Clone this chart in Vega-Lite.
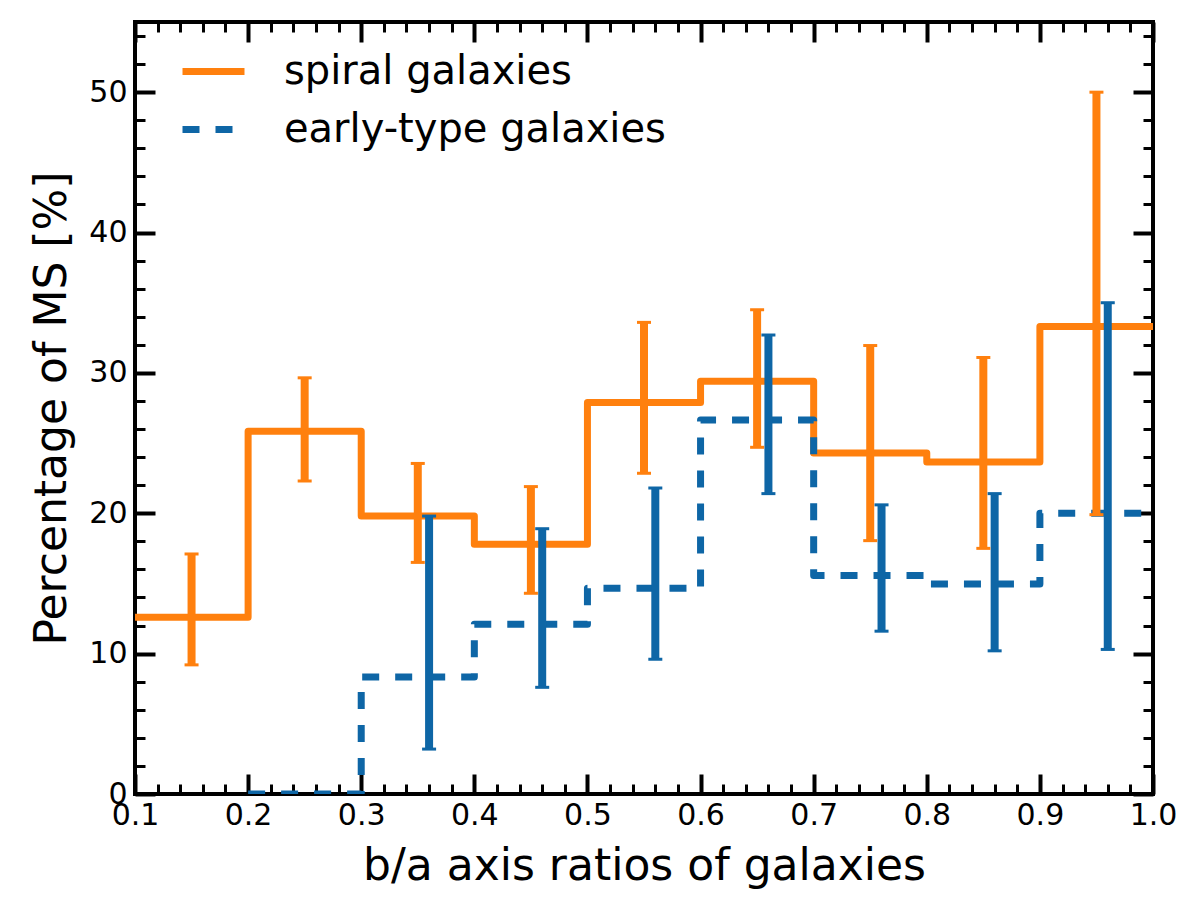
{
  "$schema": "https://vega.github.io/schema/vega-lite/v6.json",
  "width": 1018,
  "height": 772,
  "autosize": {"type": "none"},
  "padding": {"left": 135, "top": 22, "right": 47, "bottom": 111},
  "background": "white",
  "config": {
    "view": {"stroke": "black", "strokeWidth": 4},
    "font": "DejaVu Sans",
    "axis": {
      "domain": false,
      "grid": false,
      "tickColor": "black",
      "labelColor": "black",
      "titleColor": "black",
      "labelFont": "DejaVu Sans",
      "titleFont": "DejaVu Sans",
      "titleFontWeight": "normal",
      "labelFontSize": 30,
      "titleFontSize": 44,
      "labelFlush": false,
      "labelOverlap": false
    },
    "legend": {
      "labelFont": "DejaVu Sans",
      "labelFontSize": 40,
      "labelColor": "black",
      "labelLimit": 0
    }
  },
  "datasets": {
    "hist": [
      {"type": "spiral galaxies", "x": 0.1, "y": 12.6},
      {"type": "spiral galaxies", "x": 0.2, "y": 25.85},
      {"type": "spiral galaxies", "x": 0.3, "y": 19.8},
      {"type": "spiral galaxies", "x": 0.4, "y": 17.8},
      {"type": "spiral galaxies", "x": 0.5, "y": 27.9},
      {"type": "spiral galaxies", "x": 0.6, "y": 29.4},
      {"type": "spiral galaxies", "x": 0.7, "y": 24.3},
      {"type": "spiral galaxies", "x": 0.8, "y": 23.65},
      {"type": "spiral galaxies", "x": 0.9, "y": 33.3},
      {"type": "spiral galaxies", "x": 1.0, "y": 33.3},
      {"type": "early-type galaxies", "x": 0.2, "y": 0},
      {"type": "early-type galaxies", "x": 0.3, "y": 8.33},
      {"type": "early-type galaxies", "x": 0.4, "y": 12.1},
      {"type": "early-type galaxies", "x": 0.5, "y": 14.65},
      {"type": "early-type galaxies", "x": 0.6, "y": 26.65},
      {"type": "early-type galaxies", "x": 0.7, "y": 15.57},
      {"type": "early-type galaxies", "x": 0.8, "y": 14.96},
      {"type": "early-type galaxies", "x": 0.9, "y": 20.0},
      {"type": "early-type galaxies", "x": 1.0, "y": 20.0}
    ],
    "err": [
      {"type": "spiral galaxies", "x": 0.15, "lo": 9.2, "hi": 17.1},
      {"type": "spiral galaxies", "x": 0.25, "lo": 22.3, "hi": 29.65},
      {"type": "spiral galaxies", "x": 0.35, "lo": 16.5, "hi": 23.55},
      {"type": "spiral galaxies", "x": 0.45, "lo": 14.3, "hi": 21.9},
      {"type": "spiral galaxies", "x": 0.55, "lo": 22.85, "hi": 33.6},
      {"type": "spiral galaxies", "x": 0.65, "lo": 24.7, "hi": 34.5},
      {"type": "spiral galaxies", "x": 0.75, "lo": 18.05, "hi": 31.95},
      {"type": "spiral galaxies", "x": 0.85, "lo": 17.5, "hi": 31.1},
      {"type": "spiral galaxies", "x": 0.95, "lo": 19.9, "hi": 50.0},
      {"type": "early-type galaxies", "x": 0.36, "lo": 3.2, "hi": 19.8},
      {"type": "early-type galaxies", "x": 0.46, "lo": 7.6, "hi": 18.9},
      {"type": "early-type galaxies", "x": 0.56, "lo": 9.6, "hi": 21.8},
      {"type": "early-type galaxies", "x": 0.66, "lo": 21.4, "hi": 32.7},
      {"type": "early-type galaxies", "x": 0.76, "lo": 11.6, "hi": 20.6},
      {"type": "early-type galaxies", "x": 0.86, "lo": 10.2, "hi": 21.4},
      {"type": "early-type galaxies", "x": 0.96, "lo": 10.3, "hi": 35.0}
    ]
  },
  "resolve": {"axis": {"x": "independent", "y": "independent"}},
  "layer": [
    {
      "data": {"name": "hist"},
      "mark": {"type": "line", "interpolate": "step-after", "strokeWidth": 7, "strokeJoin": "round", "strokeCap": "butt", "clip": true},
      "encoding": {
        "x": {
          "field": "x", "type": "quantitative",
          "scale": {"domain": [0.1, 1.0], "nice": false, "zero": false},
          "axis": {
            "orient": "bottom",
            "values": [0.1, 0.2, 0.3, 0.4, 0.5, 0.6, 0.7, 0.8, 0.9, 1.0],
            "format": ".1f",
            "tickSize": -20, "tickWidth": 4,
            "labelPadding": 26,
            "title": "b/a axis ratios of galaxies",
            "titlePadding": 14
          }
        },
        "y": {
          "field": "y", "type": "quantitative",
          "scale": {"domain": [0, 55], "nice": false, "zero": false},
          "axis": {
            "orient": "left",
            "values": [0, 10, 20, 30, 40, 50],
            "tickSize": -20, "tickWidth": 4,
            "labelPadding": 28,
            "title": "Percentage of MS [%]",
            "titlePadding": 14
          }
        },
        "color": {
          "field": "type", "type": "nominal",
          "scale": {"domain": ["spiral galaxies", "early-type galaxies"], "range": ["#ff800e", "#0e66a6"]},
          "legend": {
            "title": null,
            "orient": "none",
            "legendX": 44,
            "legendY": 15,
            "padding": 0,
            "symbolType": "stroke",
            "symbolSize": 3844,
            "symbolStrokeWidth": 7,
            "labelOffset": 36,
            "rowPadding": 3
          }
        },
        "strokeDash": {
          "field": "type", "type": "nominal",
          "scale": {"domain": ["spiral galaxies", "early-type galaxies"], "range": [[1, 0], [17, 16]]},
          "legend": {
            "title": null,
            "orient": "none",
            "legendX": 44,
            "legendY": 15,
            "padding": 0,
            "symbolType": "stroke",
            "symbolSize": 3844,
            "symbolStrokeWidth": 7,
            "labelOffset": 36,
            "rowPadding": 3
          }
        }
      }
    },
    {
      "data": {"name": "err"},
      "transform": [{"filter": "datum.type === 'spiral galaxies'"}],
      "mark": {"type": "rule", "color": "#ff800e", "strokeWidth": 8},
      "encoding": {
        "x": {
          "field": "x", "type": "quantitative",
          "axis": {
            "orient": "bottom",
            "values": [0.1, 0.12, 0.14, 0.16, 0.18, 0.2, 0.22, 0.24, 0.26, 0.28, 0.3, 0.32, 0.34, 0.36, 0.38, 0.4, 0.42, 0.44, 0.46, 0.48, 0.5, 0.52, 0.54, 0.56, 0.58, 0.6, 0.62, 0.64, 0.66, 0.68, 0.7, 0.72, 0.74, 0.76, 0.78, 0.8, 0.82, 0.84, 0.86, 0.88, 0.9, 0.92, 0.94, 0.96, 0.98, 1.0],
            "tickSize": -10, "tickWidth": 3,
            "labels": false, "title": null
          }
        },
        "y": {
          "field": "lo", "type": "quantitative",
          "axis": {
            "orient": "left",
            "values": [0, 2, 4, 6, 8, 10, 12, 14, 16, 18, 20, 22, 24, 26, 28, 30, 32, 34, 36, 38, 40, 42, 44, 46, 48, 50, 52, 54],
            "tickSize": -10, "tickWidth": 3,
            "labels": false, "title": null
          }
        },
        "y2": {"field": "hi"}
      }
    },
    {
      "data": {"name": "err"},
      "transform": [{"filter": "datum.type === 'early-type galaxies'"}],
      "mark": {"type": "rule", "color": "#0e66a6", "strokeWidth": 8},
      "encoding": {
        "x": {
          "field": "x", "type": "quantitative",
          "axis": {
            "orient": "top",
            "values": [0.1, 0.2, 0.3, 0.4, 0.5, 0.6, 0.7, 0.8, 0.9, 1.0],
            "tickSize": -20, "tickWidth": 4,
            "labels": false, "title": null
          }
        },
        "y": {
          "field": "lo", "type": "quantitative",
          "axis": {
            "orient": "right",
            "values": [0, 10, 20, 30, 40, 50],
            "tickSize": -20, "tickWidth": 4,
            "labels": false, "title": null
          }
        },
        "y2": {"field": "hi"}
      }
    },
    {
      "data": {"name": "err"},
      "transform": [{"filter": "datum.type === 'spiral galaxies'"}],
      "mark": {"type": "tick", "orient": "horizontal", "color": "#ff800e", "size": 14, "thickness": 3, "opacity": 1},
      "encoding": {
        "x": {
          "field": "x", "type": "quantitative",
          "axis": {
            "orient": "top",
            "values": [0.1, 0.12, 0.14, 0.16, 0.18, 0.2, 0.22, 0.24, 0.26, 0.28, 0.3, 0.32, 0.34, 0.36, 0.38, 0.4, 0.42, 0.44, 0.46, 0.48, 0.5, 0.52, 0.54, 0.56, 0.58, 0.6, 0.62, 0.64, 0.66, 0.68, 0.7, 0.72, 0.74, 0.76, 0.78, 0.8, 0.82, 0.84, 0.86, 0.88, 0.9, 0.92, 0.94, 0.96, 0.98, 1.0],
            "tickSize": -10, "tickWidth": 3,
            "labels": false, "title": null
          }
        },
        "y": {
          "field": "lo", "type": "quantitative",
          "axis": {
            "orient": "right",
            "values": [0, 2, 4, 6, 8, 10, 12, 14, 16, 18, 20, 22, 24, 26, 28, 30, 32, 34, 36, 38, 40, 42, 44, 46, 48, 50, 52, 54],
            "tickSize": -10, "tickWidth": 3,
            "labels": false, "title": null
          }
        }
      }
    },
    {
      "data": {"name": "err"},
      "transform": [{"filter": "datum.type === 'spiral galaxies'"}],
      "mark": {"type": "tick", "orient": "horizontal", "color": "#ff800e", "size": 14, "thickness": 3, "opacity": 1},
      "encoding": {
        "x": {"field": "x", "type": "quantitative", "axis": null},
        "y": {"field": "hi", "type": "quantitative", "axis": null}
      }
    },
    {
      "data": {"name": "err"},
      "transform": [{"filter": "datum.type === 'early-type galaxies'"}],
      "mark": {"type": "tick", "orient": "horizontal", "color": "#0e66a6", "size": 14, "thickness": 3, "opacity": 1},
      "encoding": {
        "x": {"field": "x", "type": "quantitative", "axis": null},
        "y": {"field": "lo", "type": "quantitative", "axis": null}
      }
    },
    {
      "data": {"name": "err"},
      "transform": [{"filter": "datum.type === 'early-type galaxies'"}],
      "mark": {"type": "tick", "orient": "horizontal", "color": "#0e66a6", "size": 14, "thickness": 3, "opacity": 1},
      "encoding": {
        "x": {"field": "x", "type": "quantitative", "axis": null},
        "y": {"field": "hi", "type": "quantitative", "axis": null}
      }
    }
  ]
}
